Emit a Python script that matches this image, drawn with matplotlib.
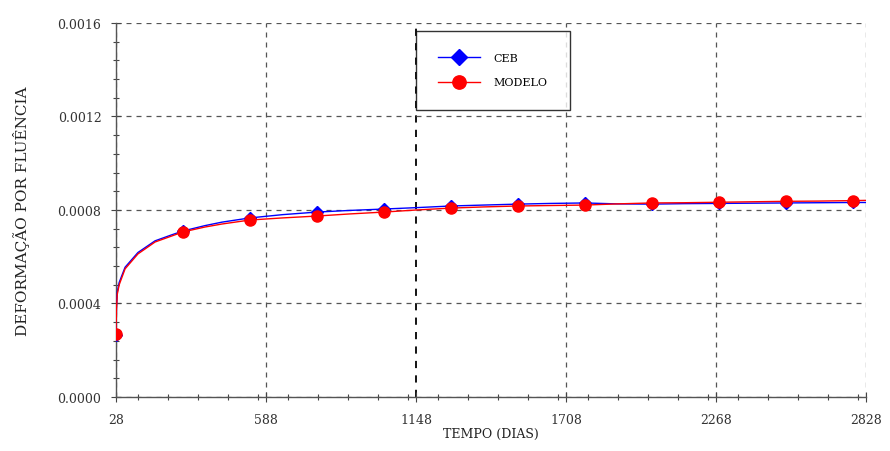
import matplotlib
matplotlib.use('Agg')
import matplotlib.pyplot as plt
from matplotlib.ticker import MultipleLocator, FixedLocator

# curva CEB (dias, deformação)
dias_ceb = [28, 30, 33, 40, 62, 110, 174, 237, 278, 360, 424, 528, 650, 778, 900,
            1028, 1150, 1278, 1400, 1528, 1650, 1778, 1900, 2028, 2150, 2278,
            2400, 2528, 2650, 2778, 2828]
def_ceb = [0.000265, 0.000390, 0.000450, 0.000490, 0.000555, 0.000618, 0.000668,
           0.000694, 0.000710, 0.000733, 0.000748, 0.000766, 0.000780, 0.000791,
           0.000798, 0.000804, 0.000810, 0.000817, 0.000821, 0.000825, 0.000828,
           0.000830, 0.000826, 0.000825, 0.000827, 0.000828, 0.000829, 0.000830,
           0.000831, 0.000832, 0.000832]

# curva do modelo
dias_mod = dias_ceb
def_mod = [0.000270, 0.000380, 0.000440, 0.000480, 0.000548, 0.000612, 0.000663,
           0.000689, 0.000706, 0.000727, 0.000740, 0.000757, 0.000766, 0.000774,
           0.000783, 0.000791, 0.000800, 0.000808, 0.000813, 0.000817, 0.000819,
           0.000821, 0.000826, 0.000830, 0.000831, 0.000833, 0.000835, 0.000837,
           0.000838, 0.000840, 0.000841]

# pontos marcados a cada 250 dias
dias_marc = [28, 278, 528, 778, 1028, 1278, 1528, 1778, 2028, 2278, 2528, 2778]
idx_marc = [dias_ceb.index(d) for d in dias_marc]

xticks = [28, 588, 1148, 1708, 2268, 2828]
yticks = [0.0, 0.0004, 0.0008, 0.0012, 0.0016]

plt.rcParams['font.family'] = ['DejaVu Serif']

fig = plt.figure(figsize=(8.9, 4.52), dpi=100)
ax = fig.add_axes([0.1303, 0.1195, 0.8427, 0.8275])

ax.plot(dias_ceb, def_ceb, color='blue', lw=1.0, marker='D', markersize=6.5,
        markevery=idx_marc, label='CEB', zorder=3)
ax.plot(dias_mod, def_mod, color='red', lw=1.0, marker='o', markersize=8,
        markevery=idx_marc, label='MODELO', zorder=4)

ax.set_xlim(28, 2828)
ax.set_ylim(0, 0.0016)
ax.xaxis.set_major_locator(FixedLocator(xticks))
ax.xaxis.set_minor_locator(MultipleLocator(112))
ax.yaxis.set_major_locator(FixedLocator(yticks))
ax.yaxis.set_minor_locator(MultipleLocator(0.00008))
ax.set_yticklabels([f'{v:.4f}' for v in yticks])
ax.set_xticklabels([str(v) for v in xticks])

ax.tick_params(which='major', direction='inout', length=7, width=0.8,
               color='#444444', labelsize=9, labelcolor='#333333')
ax.tick_params(axis='y', which='major', pad=7)
ax.tick_params(axis='x', which='major', pad=8)
ax.tick_params(which='minor', direction='inout', length=4, width=0.8, color='#444444')

ax.grid(True, which='major', linestyle=(0, (4, 4)), color='#555555', lw=0.9)
# linha vertical de 1148 mais escura
for gl, v in zip(ax.get_xgridlines(), xticks):
    if v == 1148:
        gl.set_color('black')
        gl.set_linewidth(1.3)

for s in ['top', 'right']:
    ax.spines[s].set_visible(False)
for s in ['left', 'bottom']:
    ax.spines[s].set_color('#555555')
    ax.spines[s].set_linewidth(1.0)

ax.set_xlabel('TEMPO (DIAS)', fontsize=9, labelpad=1, color='#222222')
ax.set_ylabel('DEFORMAÇÃO POR FLUÊNCIA', fontsize=11, labelpad=20, color='#222222')

leg = ax.legend(loc='upper left', bbox_to_anchor=(0.4, 0.979), fontsize=8,
                frameon=True, fancybox=False, edgecolor='black', borderpad=2.0,
                handlelength=3.8, handletextpad=1.2, labelspacing=1.3,
                borderaxespad=0, markerscale=1.2)
leg.get_frame().set_linewidth(1.0)

fig.savefig('out.png', dpi=100)
